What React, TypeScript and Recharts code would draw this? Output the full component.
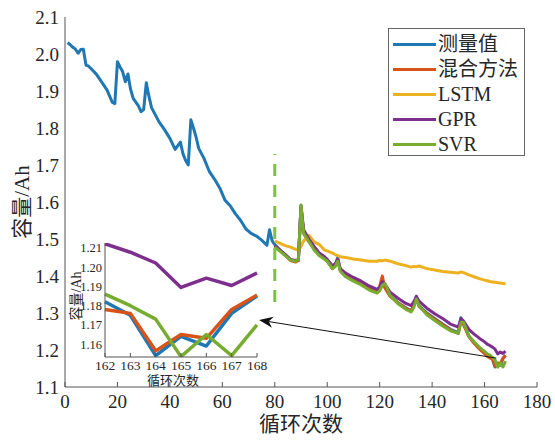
import { LineChart, Line, XAxis, YAxis, ReferenceLine, CartesianGrid } from 'recharts';

// measured capacity before the prediction start
const earlyCycles = [1, 2, 3, 4, 5, 6, 7, 8, 9, 10, 12, 14, 16, 18, 19, 20, 21, 22, 23, 24, 25, 26, 28, 29, 30, 31, 32, 33, 35, 36, 38, 40, 42, 44, 45, 46, 47, 48, 49, 50, 51, 53, 55, 57, 59, 61, 63, 65, 67, 69, 71, 73, 75, 77, 78, 79];
const earlyCap = [2.031, 2.025, 2.018, 2.013, 2.002, 2.012, 2.013, 1.970, 1.967, 1.960, 1.945, 1.924, 1.903, 1.870, 1.866, 1.979, 1.965, 1.952, 1.925, 1.946, 1.905, 1.880, 1.860, 1.844, 1.850, 1.922, 1.886, 1.855, 1.828, 1.815, 1.795, 1.772, 1.742, 1.762, 1.730, 1.712, 1.700, 1.822, 1.800, 1.775, 1.745, 1.718, 1.683, 1.662, 1.638, 1.605, 1.590, 1.568, 1.550, 1.527, 1.515, 1.508, 1.497, 1.483, 1.525, 1.495];

// prediction period
const predCycles = [80, 82, 84, 86, 88, 89, 90, 91, 93, 95, 97, 99, 100, 102, 103, 104, 105, 107, 110, 113, 116, 119, 120, 121, 122, 124, 127, 130, 132, 133, 134, 135, 138, 141, 144, 147, 150, 151, 152, 154, 156, 158, 160, 161, 162, 163, 164, 165, 166, 167, 168];
const measuredLate = [1.485, 1.470, 1.458, 1.443, 1.440, 1.442, 1.590, 1.520, 1.495, 1.475, 1.458, 1.450, 1.440, 1.422, 1.428, 1.450, 1.415, 1.402, 1.390, 1.380, 1.366, 1.356, 1.365, 1.385, 1.370, 1.346, 1.328, 1.314, 1.306, 1.320, 1.345, 1.320, 1.300, 1.285, 1.270, 1.256, 1.247, 1.287, 1.272, 1.238, 1.220, 1.205, 1.192, 1.186, 1.182, 1.175, 1.154, 1.164, 1.159, 1.176, 1.185];
const hybridCap = [1.480, 1.468, 1.456, 1.442, 1.438, 1.442, 1.585, 1.515, 1.493, 1.474, 1.456, 1.448, 1.440, 1.420, 1.432, 1.445, 1.414, 1.400, 1.389, 1.379, 1.365, 1.355, 1.372, 1.400, 1.368, 1.345, 1.327, 1.313, 1.305, 1.322, 1.340, 1.318, 1.298, 1.283, 1.268, 1.254, 1.245, 1.280, 1.268, 1.236, 1.218, 1.203, 1.190, 1.183, 1.178, 1.176, 1.1565, 1.165, 1.163, 1.178, 1.1855];
const lstmCap = [1.494, 1.488, 1.482, 1.478, 1.472, 1.470, 1.480, 1.495, 1.510, 1.492, 1.485, 1.470, 1.468, 1.462, 1.458, 1.455, 1.452, 1.450, 1.446, 1.443, 1.440, 1.440, 1.442, 1.441, 1.443, 1.440, 1.433, 1.428, 1.424, 1.426, 1.425, 1.427, 1.420, 1.416, 1.412, 1.410, 1.408, 1.411, 1.409, 1.403, 1.398, 1.393, 1.389, 1.387, 1.385, 1.384, 1.383, 1.382, 1.381, 1.380, 1.379];
const gprCap = [1.482, 1.470, 1.458, 1.445, 1.442, 1.445, 1.588, 1.525, 1.500, 1.480, 1.462, 1.452, 1.445, 1.428, 1.432, 1.445, 1.420, 1.408, 1.396, 1.386, 1.373, 1.364, 1.370, 1.385, 1.378, 1.356, 1.340, 1.326, 1.320, 1.330, 1.345, 1.332, 1.313, 1.298, 1.285, 1.270, 1.262, 1.285, 1.278, 1.256, 1.243, 1.232, 1.222, 1.216, 1.2122, 1.2078, 1.2022, 1.1895, 1.1943, 1.1905, 1.197];
const svrCap = [1.478, 1.467, 1.455, 1.443, 1.440, 1.445, 1.592, 1.515, 1.494, 1.470, 1.455, 1.445, 1.440, 1.420, 1.425, 1.440, 1.413, 1.398, 1.386, 1.376, 1.362, 1.354, 1.360, 1.375, 1.380, 1.348, 1.325, 1.310, 1.303, 1.315, 1.338, 1.320, 1.295, 1.280, 1.265, 1.252, 1.245, 1.275, 1.275, 1.238, 1.222, 1.208, 1.196, 1.190, 1.186, 1.180, 1.173, 1.1535, 1.165, 1.154, 1.170];

const xTicks = [0, 20, 40, 60, 80, 100, 120, 140, 160, 180];
const yTicks = [1.1, 1.2, 1.3, 1.4, 1.5, 1.6, 1.7, 1.8, 1.9, 2.0, 2.1];
const insetXTicks = [162, 163, 164, 165, 166, 167, 168];
const insetYTicks = [1.16, 1.17, 1.18, 1.19, 1.2, 1.21];

const predStart = 80;
const zoomStart = 162;

const FONT = "'Liberation Serif', 'Times New Roman', 'DejaVu Serif', 'Noto Sans CJK SC', serif";
const TXT = '#262626';
const AX = '#555';

const series = [
  { key: 'measured', name: '测量值', color: '#1f77b4' },
  { key: 'hybrid', name: '混合方法', color: '#d95319' },
  { key: 'lstm', name: 'LSTM', color: '#edb120' },
  { key: 'gpr', name: 'GPR', color: '#7e2f8e' },
  { key: 'svr', name: 'SVR', color: '#77ac30' },
];

const toPts = (cs: number[], vs: number[]) => cs.map((c, i) => ({ c, v: vs[i] }));

const lineData: Record<string, { c: number; v: number }[]> = {
  measured: [...toPts(earlyCycles, earlyCap), ...toPts(predCycles, measuredLate)],
  hybrid: toPts(predCycles, hybridCap),
  lstm: toPts(predCycles, lstmCap),
  gpr: toPts(predCycles, gprCap),
  svr: toPts(predCycles, svrCap),
};

const insetData: Record<string, { c: number; v: number }[]> = {};
for (const s of series) {
  if (s.key !== 'lstm') insetData[s.key] = lineData[s.key].filter((p) => p.c >= zoomStart);
}

const BottomTick = (props: any) => {
  const { x, y, payload, size, len, gap } = props;
  return (
    <g>
      <line x1={x} x2={x} y1={y} y2={y - len} stroke={AX} strokeWidth={1} />
      <text x={x} y={y + gap} textAnchor="middle" fontSize={size} fill={TXT} fontFamily={FONT}>
        {payload.value}
      </text>
    </g>
  );
};

const Arrow = (p: any) => {
  const { x1, y1, x2, y2 } = p;
  const a = Math.atan2(y2 - y1, x2 - x1);
  const L = 14;
  const W = 5.5;
  const cos = Math.cos(a);
  const sin = Math.sin(a);
  const bx = x2 - L * cos;
  const by = y2 - L * sin;
  const nx = x2 - L * 0.7 * cos;
  const ny = y2 - L * 0.7 * sin;
  const pts = `${x2},${y2} ${bx - W * sin},${by + W * cos} ${nx},${ny} ${bx + W * sin},${by - W * cos}`;
  return (
    <g>
      <line x1={x1} y1={y1} x2={nx} y2={ny} stroke="#111" strokeWidth={1} />
      <polygon points={pts} fill="#111" />
    </g>
  );
};

const Legend = () => (
  <div
    style={{
      position: 'absolute',
      left: 388,
      top: 28,
      width: 137,
      height: 128,
      border: '1px solid #666',
      background: '#fff',
      boxSizing: 'border-box',
      fontFamily: FONT,
      color: TXT,
    }}
  >
    {series.map((s, i) => (
      <div key={s.key} style={{ position: 'absolute', left: 4, top: 3 + i * 25, height: 25, display: 'flex', alignItems: 'center' }}>
        <div style={{ width: 43, height: 3, background: s.color, marginRight: 2 }} />
        <span style={{ fontSize: 20, lineHeight: '25px', whiteSpace: 'nowrap' }}>{s.name}</span>
      </div>
    ))}
  </div>
);

export default function App() {
  return (
    <div style={{ position: 'absolute', left: 0, top: 0, width: 555, height: 443, background: '#fff' }}>
      <LineChart width={555} height={443} margin={{ top: 17, right: 18, bottom: 0, left: 0 }}>
        <XAxis
          dataKey="c"
          type="number"
          domain={[0, 180]}
          ticks={xTicks}
          interval={0}
          allowDataOverflow
          height={56}
          tickSize={0}
          tickMargin={0}
          tickLine={false}
          axisLine={{ stroke: AX }}
          tick={(p: any) => <BottomTick {...p} size={19} len={5} gap={21} />}
          label={({ viewBox }: any) => (
            <text x={viewBox.x + viewBox.width / 2} y={viewBox.y + 44} textAnchor="middle" fontSize={21} fill={TXT} fontFamily={FONT}>
              循环次数
            </text>
          )}
        />
        <XAxis xAxisId="top" orientation="top" type="number" domain={[0, 180]} height={0} tick={false} tickLine={false} axisLine={{ stroke: AX }} />
        <YAxis
          type="number"
          domain={[1.1, 2.1]}
          ticks={yTicks}
          interval={0}
          width={65}
          tickSize={0}
          tickMargin={6}
          tickLine={false}
          axisLine={{ stroke: AX }}
          tickFormatter={(v: number) => v.toFixed(1)}
          tick={{ fontSize: 19, fill: TXT, fontFamily: FONT }}
          label={({ viewBox }: any) => {
            const cx = viewBox.x + 22;
            const cy = viewBox.y + viewBox.height / 2;
            return (
              <text x={cx} y={cy} transform={`rotate(-90, ${cx}, ${cy})`} textAnchor="middle" dominantBaseline="central" fontSize={21} fill={TXT} fontFamily={FONT}>
                容量/Ah
              </text>
            );
          }}
        />
        <YAxis yAxisId="right" orientation="right" type="number" domain={[1.1, 2.1]} width={0} tick={false} tickLine={false} axisLine={{ stroke: AX }} />
        {series.map((s) => (
          <Line
            key={s.key}
            data={lineData[s.key]}
            dataKey="v"
            type="linear"
            stroke={s.color}
            strokeWidth={3}
            strokeLinejoin="round"
            dot={false}
            activeDot={false}
            isAnimationActive={false}
          />
        ))}
        <ReferenceLine
          segment={[{ x: predStart, y: 1.33 }, { x: predStart, y: 1.73 }]}
          stroke="#7cc242"
          strokeWidth={3}
          strokeDasharray="12 9"
        />
        <ReferenceLine
          segment={[{ x: 164.5, y: 1.178 }, { x: 74, y: 1.281 }]}
          shape={(p: any) => <Arrow {...p} />}
        />
      </LineChart>

      <Legend />

      <div style={{ position: 'absolute', left: 60, top: 235 }}>
        <LineChart width={218} height={160} margin={{ top: 8, right: 21, bottom: 0, left: 0 }}>
          <CartesianGrid horizontal={false} vertical={false} fill="#fff" />
          <XAxis
            dataKey="c"
            type="number"
            domain={[162, 168]}
            ticks={insetXTicks}
            interval={0}
            height={38}
            tickSize={0}
            tickMargin={0}
            tickLine={false}
            axisLine={{ stroke: AX }}
            tick={(p: any) => <BottomTick {...p} size={13.5} len={4} gap={13} />}
            label={({ viewBox }: any) => (
              <text x={viewBox.x + viewBox.width / 2 - 8} y={viewBox.y + 28} textAnchor="middle" fontSize={13} fill={TXT} fontFamily={FONT}>
                循环次数
              </text>
            )}
          />
          <XAxis xAxisId="top" orientation="top" type="number" domain={[162, 168]} height={0} tick={false} tickLine={false} axisLine={{ stroke: AX }} />
          <YAxis
            type="number"
            domain={[1.1533, 1.2126]}
            ticks={insetYTicks}
            interval={0}
            allowDataOverflow
            width={45}
            tickSize={0}
            tickMargin={3}
            tickLine={false}
            axisLine={{ stroke: AX }}
            tickFormatter={(v: number) => v.toFixed(2)}
            tick={{ fontSize: 12.5, fill: TXT, fontFamily: FONT }}
            label={({ viewBox }: any) => {
              const cx = viewBox.x + 16;
              const cy = viewBox.y + viewBox.height / 2 - 4;
              return (
                <text x={cx} y={cy} transform={`rotate(-90, ${cx}, ${cy})`} textAnchor="middle" dominantBaseline="central" fontSize={14} fill={TXT} fontFamily={FONT}>
                  容量/Ah
                </text>
              );
            }}
          />
          <YAxis yAxisId="right" orientation="right" type="number" domain={[1.1533, 1.2126]} width={0} tick={false} tickLine={false} axisLine={{ stroke: AX }} />
          {series
            .filter((s) => s.key !== 'lstm')
            .map((s) => (
              <Line
                key={s.key}
                data={insetData[s.key]}
                dataKey="v"
                type="linear"
                stroke={s.color}
                strokeWidth={3.5}
                strokeLinejoin="round"
                dot={false}
                activeDot={false}
                isAnimationActive={false}
              />
            ))}
        </LineChart>
      </div>
    </div>
  );
}
